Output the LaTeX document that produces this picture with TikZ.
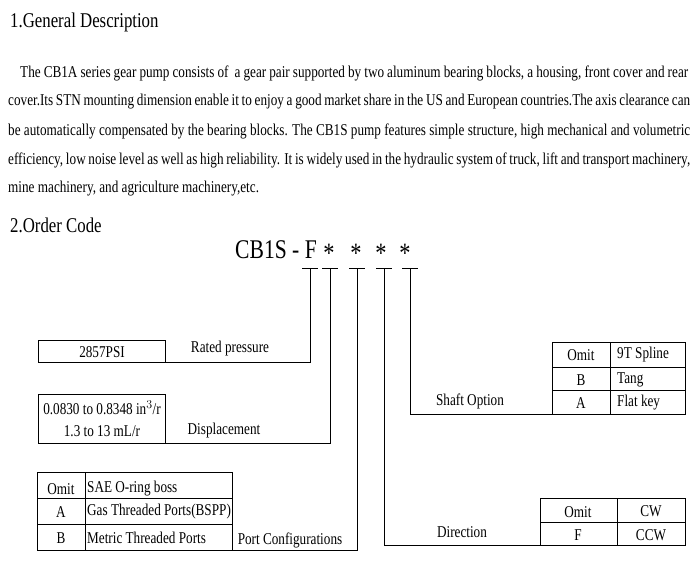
\documentclass[tikz,border=0pt]{standalone}
\usepackage{fontspec}
\setmainfont{Liberation Serif}[FakeStretch=0.8]
\begin{document}
\begin{tikzpicture}[
		x=1pt,y=-1pt,
		txt/.style={inner sep=0pt,font=\fontsize{16.5}{18}\selectfont},
		body/.style={inner sep=0pt,anchor=west,font=\fontsize{16.5}{18}\selectfont},
		cell/.style={draw,thin}
	]
		\useasboundingbox (0,0) rectangle (700,566);

		%description
		\node[body,font=\fontsize{21}{23}\selectfont] (head1) at (10,22) {1.General Description};
		\node[body] (l1) at (20,73) {\makebox[668pt][s]{The CB1A series gear pump consists of\ \ a gear pair supported by two aluminum bearing blocks, a housing, front cover and rear}};
		\node[body] (l2) at (8,102) {\makebox[682pt][s]{cover.Its STN mounting dimension enable it to enjoy a good market share in the US and European countries.The axis clearance can}};
		\node[body] (l3) at (8,131) {\makebox[682pt][s]{be automatically compensated by the bearing blocks. The CB1S pump features simple structure, high mechanical and volumetric}};
		\node[body] (l4) at (8,160) {\makebox[682pt][s]{efficiency, low noise level as well as high reliability. It is widely used in the hydraulic system of truck, lift and transport machinery,}};
		\node[body] (l5) at (8,189) {mine machinery, and agriculture machinery,etc.};

		%order code
		\node[body,font=\fontsize{21}{23}\selectfont] (head2) at (10,225) {2.Order Code};
		\node[body,font=\fontsize{27}{29}\selectfont] (code) at (235,250) {CB1S - F};
		\foreach \x/\n in {329/s1,356/s2,381/s3,405/s4}
			\node[txt,font=\fontsize{28}{30}\selectfont] (\n) at (\x,253) {*};
		\foreach \x in {310,330,357,384,410}
			\draw (\x-8,268) -- (\x+8,268);

		%rated pressure
		\draw[cell] (38,340) rectangle (165,362);
		\node[txt] (psi) at (102,352) {2857PSI};
		\node[txt] (rated) at (230,349) {Rated pressure};
		\draw (165,362) -- (310,362) -- (310,268);

		%displacement
		\draw[cell] (38,394) rectangle (165,443);
		\node[txt] (disp1) at (102,408) {0.0830 to 0.8348 in$^3$/r};
		\node[txt] (disp2) at (102,431) {1.3 to 13 mL/r};
		\node[txt] (disp) at (224,431) {Displacement};
		\draw (165,443) -- (330,443) -- (330,268);

		%port configurations
		\draw[cell] (37,472) rectangle (232,550);
		\draw (37,498) -- (232,498) (37,524) -- (232,524) (85,472) -- (85,550);
		\node[txt] (p1) at (61,489) {Omit};
		\node[txt] (p2) at (61,512) {A};
		\node[txt] (p3) at (61,538) {B};
		\node[txt,anchor=west] (p4) at (87,489) {SAE O-ring boss};
		\node[txt,anchor=west] (p5) at (87,512) {Gas Threaded Ports(BSPP)};
		\node[txt,anchor=west] (p6) at (87,538) {Metric Threaded Ports};
		\node[txt] (port) at (290,540) {Port Configurations};
		\draw (232,550) -- (357,550) -- (357,268);

		%direction
		\draw[cell] (540,498) rectangle (685,545);
		\draw (540,522) -- (685,522) (617,498) -- (617,545);
		\node[txt] (d1) at (578,512) {Omit};
		\node[txt] (d2) at (578,535) {F};
		\node[txt] (d3) at (651,511) {CW};
		\node[txt] (d4) at (651,535) {CCW};
		\node[txt] (dir) at (462,532) {Direction};
		\draw (540,545) -- (384,545) -- (384,268);

		%shaft option
		\draw[cell] (552,342) rectangle (685,414);
		\draw (552,367) -- (685,367) (552,390) -- (685,390) (610,342) -- (610,414);
		\node[txt] (sh1) at (581,355) {Omit};
		\node[txt] (sh2) at (581,380) {B};
		\node[txt] (sh3) at (581,403) {A};
		\node[txt,anchor=west] (sh4) at (617,355) {9T Spline};
		\node[txt,anchor=west] (sh5) at (617,380) {Tang};
		\node[txt,anchor=west] (sh6) at (617,403) {Flat key};
		\node[txt] (shaft) at (470,401) {Shaft Option};
		\draw (552,414) -- (410,414) -- (410,268);
	\end{tikzpicture}
\end{document}
